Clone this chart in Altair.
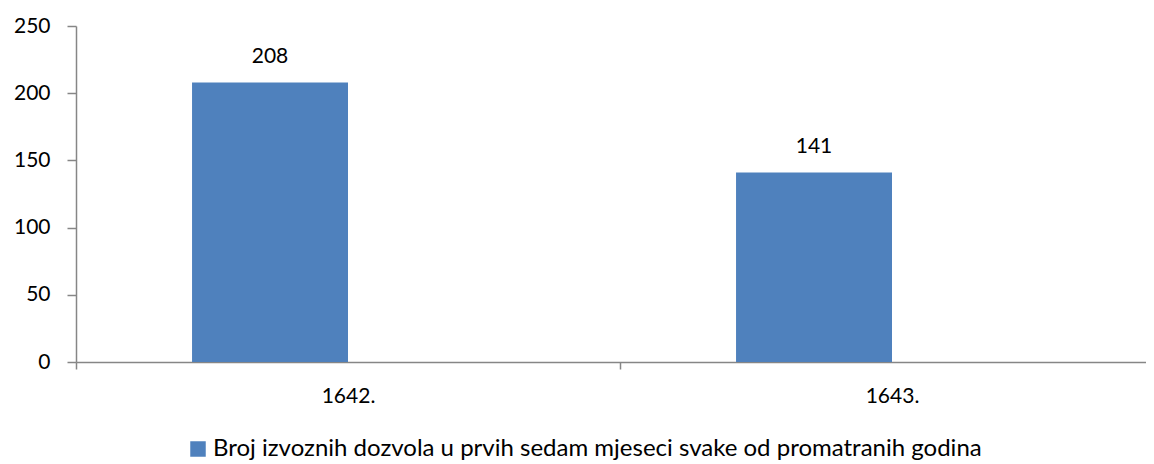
import altair as alt
import pandas as pd

years = ["1642.", "1643."]
values = [208, 141]
series_name = "Broj izvoznih dozvola u prvih sedam mjeseci svake od promatranih godina"
series_slots = [series_name, "prazno"]

df = pd.DataFrame({"year": years, "value": values, "series": [series_name] * len(years)})

FONT = "Lato"
GRAY = "#868686"
BLUE = "#4F81BD"

x_enc = alt.X(
    "year:N", sort=years, title=None,
    scale=alt.Scale(domain=years, range=[0, 1088], paddingInner=0, paddingOuter=0),
    axis=alt.Axis(labelAngle=0, labelFontSize=21, labelColor="black", labelFont=FONT,
                  tickBand="extent", tickSize=7, tickColor=GRAY, domainColor=GRAY,
                  domainWidth=1.5, tickWidth=1.5,
                  labelPadding=16, grid=False),
)
xo_enc = alt.XOffset("series:N", scale=alt.Scale(domain=series_slots, paddingInner=0, paddingOuter=0.744))
y_enc = alt.Y(
    "value:Q", title=None,
    scale=alt.Scale(domain=[0, 250], nice=False),
    axis=alt.Axis(values=[0, 50, 100, 150, 200, 250], labelFontSize=21, labelColor="black",
                  labelFont=FONT, tickSize=9, tickColor=GRAY, domainColor=GRAY,
                  domainWidth=1.5, tickWidth=1.5,
                  labelPadding=17, grid=False),
)

bars = alt.Chart(df).mark_bar().encode(
    x=x_enc, xOffset=xo_enc, y=y_enc,
    color=alt.Color("series:N", scale=alt.Scale(domain=[series_name], range=[BLUE]),
                    legend=alt.Legend(title=None, orient="none", legendX=110, legendY=411,
                                      symbolType="square", symbolSize=240, symbolStrokeWidth=0,
                                      labelFontSize=24, labelFont=FONT, labelColor="black",
                                      labelLimit=0, labelOffset=3)),
)

labels = alt.Chart(df).mark_text(baseline="alphabetic", dy=-19, fontSize=21, font=FONT, color="black").encode(
    x=x_enc, xOffset=xo_enc, y=y_enc, text="value:Q",
)

chart = alt.layer(bars, labels).properties(
    width=1070, height=336,
    padding={"left": 68, "top": 18, "right": 0, "bottom": 102},
    autosize=alt.AutoSizeParams(type="none"),
).configure_view(stroke=None)

chart.save("out.html", embed_options={"renderer": "svg", "actions": False})
